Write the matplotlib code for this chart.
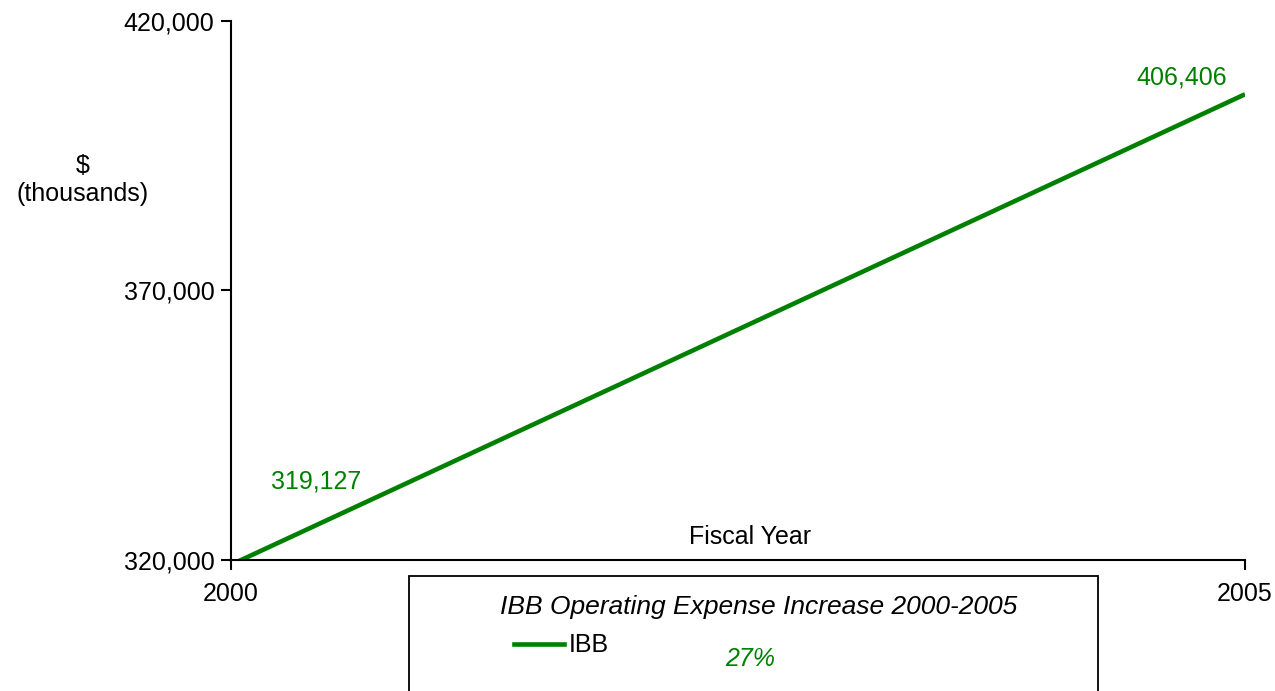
import matplotlib.pyplot as plt
from matplotlib.patches import Rectangle
from matplotlib.ticker import FuncFormatter

plt.rcParams['font.family'] = ['Liberation Sans', 'DejaVu Sans']

years = [2000, 2005]
expense = [319127, 406406]
y_ticks = [320000, 370000, 420000]
increase = "27%"
green = "#008000"
fs = 18

fig = plt.figure(figsize=(12.75, 6.91), dpi=100)
ax = fig.add_axes([0.1812, 0.1896, 0.7953, 0.7800])

ax.plot(years, expense, color=green, linewidth=3.3, solid_capstyle="butt")
ax.set_xlim(2000, 2005)
ax.set_ylim(320000, 420000)
ax.set_xticks(years)
ax.set_yticks(y_ticks)
ax.yaxis.set_major_formatter(FuncFormatter(lambda v, p: f"{int(v):,}"))
ax.tick_params(axis="both", direction="out", length=7, width=1.5, labelsize=fs, colors="black")
ax.tick_params(axis="x", pad=9)
ax.tick_params(axis="y", pad=5)
for side in ["top", "right"]:
    ax.spines[side].set_visible(False)
for side in ["left", "bottom"]:
    ax.spines[side].set_linewidth(1.5)

# value labels at the ends of the line
ax.text(2000.42, 334470, f"{expense[0]:,}", color=green, fontsize=fs, ha="center", va="center")
ax.text(2004.69, 409610, f"{expense[1]:,}", color=green, fontsize=fs, ha="center", va="center")

ax.text(2002.56, 324270, "Fiscal Year", fontsize=fs, ha="center", va="center")
fig.text(83 / 1275, 1 - 180 / 691, "$\n(thousands)", fontsize=fs, ha="center", va="center",
         linespacing=1.25)

# legend box below the plot
fig.patches.append(Rectangle((409 / 1275, -0.01), 689 / 1275, 1 - 576 / 691 + 0.01,
                             transform=fig.transFigure, facecolor="white",
                             edgecolor="black", linewidth=1.3))
fig.text(759 / 1275, 1 - 607 / 691, "IBB Operating Expense Increase 2000-2005",
         fontsize=19, style="italic", ha="center", va="center")
fig.lines.append(plt.Line2D([514 / 1275, 564 / 1275], [1 - 644 / 691] * 2,
                            transform=fig.transFigure, color=green, linewidth=3.3))
fig.text(569 / 1275, 1 - 645 / 691, "IBB", fontsize=fs, ha="left", va="center")
fig.text(750 / 1275, 1 - 659 / 691, increase, fontsize=fs, style="italic", color=green,
         ha="center", va="center")

fig.savefig("out.png", dpi=100)
